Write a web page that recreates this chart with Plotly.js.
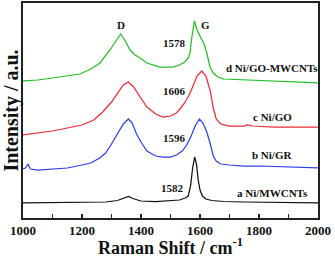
<!DOCTYPE html>
<html>
<head>
<meta charset="utf-8">
<script src="https://cdn.plot.ly/plotly-3.0.1.min.js"></script>
<style>html,body{margin:0;padding:0;background:#fff;}#chart{width:335px;height:258px;}</style>
</head>
<body>
<div id="chart"></div>
<script>
// a Ni/MWCNTs
const xA = [1000,1100,1200,1280,1320,1345,1358,1372,1400,1450,1500,1530,1550,1560,1568,1575,1582,1588,1594,1600,1608,1620,1640,1680,1750,1850,2000];
const yA = [15,15.5,15.5,16,17.5,20,21.5,19.5,17,16.5,17,18,20,22,32,50,61,54,38,28,22,19,17.5,16.5,16,15.5,15];
// b Ni/GR
const xB = [1000,1008,1017,1025,1050,1100,1150,1200,1230,1260,1280,1300,1320,1340,1357,1370,1385,1400,1420,1450,1475,1500,1520,1540,1555,1570,1585,1598,1610,1623,1635,1645,1655,1670,1700,1750,1800,1900,2000];
const yB = [49,50,54,49,48,49,50,53,55,60,65,74,84,94,99,95,84,76,67,62,61,61,63,67,73,82,93,99,95,86,74,62,57,54,53,52,52,51,50];
// c Ni/GO
const xC = [1000,1050,1100,1150,1200,1240,1270,1300,1320,1340,1357,1375,1397,1420,1450,1475,1500,1520,1532,1550,1565,1577,1590,1606,1620,1634,1645,1655,1670,1700,1750,1760,1780,1850,2000];
const yC = [83,85,87,90,93,98,106,116,125,133,136,131,121,111,104,101,102,105,109,116,124,133,142,147,142,128,110,99,94,92,92,93,92,91,91];
// d Ni/GO-MWCNTs
const xD = [1000,1050,1100,1150,1193,1230,1261,1295,1315,1331,1345,1363,1380,1397,1420,1441,1464,1488,1508,1530,1549,1560,1566,1572,1581,1590,1600,1606,1615,1623,1634,1645,1660,1680,1750,1850,2000];
const yD = [137,138,140,142,144,149,155,168,177,184,178,168,163,160,155,153,151,151,151,153,156,160,165,180,197,188,182,180,173,165,151,145,141,139,138,137,135];

const peakLabels = ['D','G','1578','1606','1596','1582'];
const peakX = [1332,1619,1515,1515,1515,1508];
const peakY = [193,193,175,127,80,30];
const seriesLabels = ['d Ni/GO-MWCNTs','c Ni/GO','b Ni/GR','a Ni/MWCNTs'];
const seriesLabelX = [1844,1847,1844,1847];
const seriesLabelY = [150,101,63,25];

const serif = 'Liberation Serif, Times New Roman, serif';
const traces = [
  {x:xA, y:yA, color:'#111111'},
  {x:xB, y:yB, color:'#2f3fe8'},
  {x:xC, y:yC, color:'#ef2b35'},
  {x:xD, y:yD, color:'#22c022'}
].map(s => ({x:s.x, y:s.y, type:'scatter', mode:'lines', line:{color:s.color, width:1.25}, hoverinfo:'skip'}));

const annotations = [];
peakLabels.forEach((t,i)=>annotations.push({x:peakX[i], y:peakY[i], text:t, showarrow:false, xref:'x', yref:'y',
  font:{family:serif, size:11, color:'#111', weight:'bold'}}));
seriesLabels.forEach((t,i)=>annotations.push({x:seriesLabelX[i], y:seriesLabelY[i], text:t, showarrow:false, xref:'x', yref:'y',
  font:{family:serif, size:11, color:'#111', weight:'bold'}}));

const layout = {
  width:335, height:258,
  margin:{l:23, r:17, t:3, b:40},
  paper_bgcolor:'#fff', plot_bgcolor:'#fff',
  showlegend:false,
  xaxis:{
    range:[1000,2000], tickvals:[1000,1200,1400,1600,1800,2000],
    ticks:'inside', ticklen:4, tickwidth:1.2, tickcolor:'#222',
    minor:{dtick:100, ticks:'inside', ticklen:4, tickwidth:1.2, tickcolor:'#222'},
    showgrid:false, zeroline:false,
    showline:true, linewidth:1.6, linecolor:'#222', mirror:true,
    tickfont:{family:serif, size:13, color:'#111', weight:'bold'},
    title:{text:'Raman Shift / cm<sup>-1</sup>', standoff:2, font:{family:serif, size:18, color:'#111', weight:'bold'}}
  },
  yaxis:{
    range:[0,215], showticklabels:false, ticks:'', showgrid:false, zeroline:false,
    showline:true, linewidth:1.6, linecolor:'#222', mirror:true,
    title:{text:'Intensity / a.u.', standoff:0, font:{family:serif, size:20, color:'#111', weight:'bold'}}
  },
  annotations: annotations
};
Plotly.newPlot('chart', traces, layout, {displayModeBar:false, staticPlot:true});
</script>
</body>
</html>
